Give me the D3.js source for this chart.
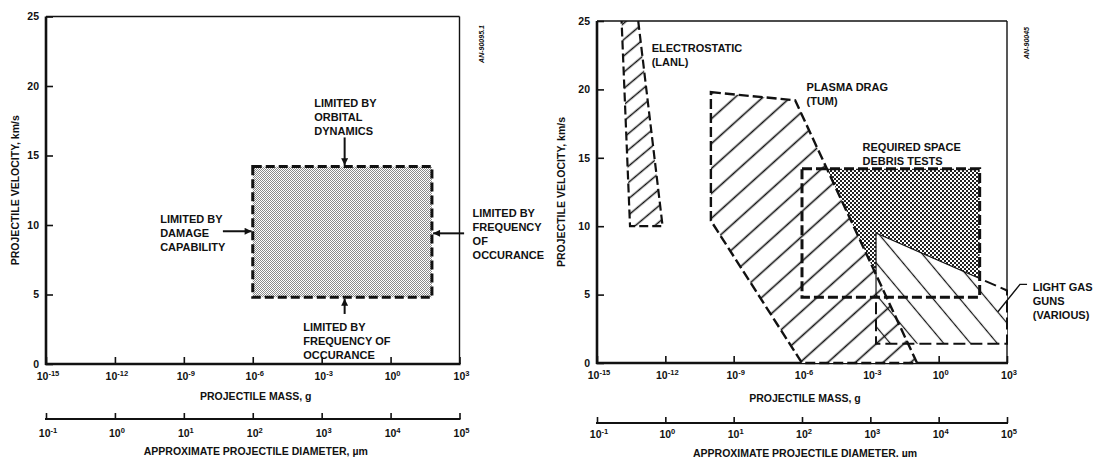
<!DOCTYPE html>
<html><head><meta charset="utf-8">
<script src="https://cdn.jsdelivr.net/npm/d3@7"></script>
<style>
body{margin:0;background:#fff}
svg{display:block}
text{font-family:"Liberation Sans",Arial,Helvetica,sans-serif;fill:#111}
</style>
</head><body>
<svg id="c" width="1093" height="457"></svg>
<script>
// ---------------- data ----------------
const massTickExp = [-15, -12, -9, -6, -3, 0, 3];        // projectile mass, g (10^x)
const diamTickExp = [-1, 0, 1, 2, 3, 4, 5];              // approx. diameter, um (10^x)
const velTicks = [0, 5, 10, 15, 20, 25];                 // km/s

// Required space debris test envelope (both panels)
const boxMassExp = [-6, 1.8];
const boxVel = [4.8, 14.2];

// Electrostatic (LANL) envelope
const electroMassExp = [-13.92, -13.19, -12.12, -13.55];
const electroVel = [25, 25, 10, 10];

// Plasma drag (TUM) envelope
const plasmaMassExp = [-10, -6.3, -0.95, -6, -10];
const plasmaVel = [19.8, 19.2, 0, 0, 10.4];

// Light gas guns (various) envelope
const lggMassExp = [-2.75, 3, 3, -2.75];
const lggVel = [9.5, 5.3, 1.4, 1.4];

// Left panel annotations (mass exponent, velocity)
const leftNotes = [
  {lines: ["LIMITED BY", "ORBITAL", "DYNAMICS"], e: -3.32, v: 18.8},
  {lines: ["LIMITED BY", "DAMAGE", "CAPABILITY"], e: -10.03, v: 10.4},
  {lines: ["LIMITED BY", "FREQUENCY", "OF", "OCCURANCE"], e: 3.57, v: 10.85},
  {lines: ["LIMITED BY", "FREQUENCY OF", "OCCURANCE"], e: -3.8, v: 2.66}
];
const leftArrows = [
  {from: [-2, 16.3], to: [-2, 14.3]},
  {from: [-7.3, 9.55], to: [-6.05, 9.55]},
  {from: [3.2, 9.4], to: [1.85, 9.4]},
  {from: [-2, 3.6], to: [-2, 4.7]}
];
// Right panel annotations
const rightNotes = [
  {lines: ["ELECTROSTATIC", "(LANL)"], e: -12.6, v: 23.0},
  {lines: ["PLASMA DRAG", "(TUM)"], e: -5.8, v: 20.2},
  {lines: ["REQUIRED SPACE", "DEBRIS TESTS"], e: -3.34, v: 15.8},
  {lines: ["LIGHT GAS", "GUNS", "(VARIOUS)"], e: 4.13, v: 5.58}
];
const lggLeader = [[3.88, 5.75], [3.57, 5.75], [2.6, 3.75]];

// ---------------- layout ----------------
const panels = [
  {x0: 46, x1: 459.5, yTop: 16.5, yBot: 364, diamY: 419, massLabY: 380, massTitleY: 400,
   diamLabY: 436.5, diamTitleY: 455, yTitleX: 15, tag: "AN-90095.1", tagX: 481, tagY: 44},
  {x0: 597, x1: 1007, yTop: 21, yBot: 363, diamY: 423, massLabY: 378.5, massTitleY: 402,
   diamLabY: 437.5, diamTitleY: 456.5, yTitleX: 561, tag: "AN-90045", tagX: 1026, tagY: 43}
];

const svg = d3.select("#c");
svg.append("rect").attr("width", 1093).attr("height", 457).attr("fill", "#fff");
const defs = svg.append("defs");

function hatch(id, spacing, angle, width) {
  const p = defs.append("pattern").attr("id", id).attr("patternUnits", "userSpaceOnUse")
    .attr("width", spacing).attr("height", spacing)
    .attr("patternTransform", `rotate(${angle})`);
  p.append("line").attr("x1", -1).attr("x2", spacing + 1)
    .attr("y1", spacing / 2).attr("y2", spacing / 2)
    .attr("stroke", "#111").attr("stroke-width", width);
}
hatch("hElectro", 12.5, -40, 1.5);
hatch("hPlasma", 18.5, -42, 1.6);
hatch("hLgg", 20.5, 50, 1.2);

function stipple(id, size, fill) {
  const p = defs.append("pattern").attr("id", id).attr("patternUnits", "userSpaceOnUse")
    .attr("width", size * 2).attr("height", size * 2);
  p.append("rect").attr("width", size * 2).attr("height", size * 2).attr("fill", "#fff");
  p.append("rect").attr("x", 0).attr("y", 0).attr("width", size).attr("height", size).attr("fill", fill);
  p.append("rect").attr("x", size).attr("y", size).attr("width", size).attr("height", size).attr("fill", fill);
}
stipple("stipL", 1, "#8a8a8a");
stipple("stipR", 2, "#222");

const arrowM = defs.append("marker").attr("id", "arr").attr("viewBox", "0 0 10 10")
  .attr("refX", 10).attr("refY", 5).attr("markerWidth", 10).attr("markerHeight", 7)
  .attr("markerUnits", "userSpaceOnUse").attr("orient", "auto");
arrowM.append("path").attr("d", "M0,0 L10,5 L0,10 z").attr("fill", "#111");

function supLabel(sel, base, exp, x, y, size) {
  const t = sel.append("text").attr("x", x).attr("y", y).attr("text-anchor", "middle")
    .attr("font-size", size).attr("font-weight", "bold");
  t.append("tspan").text(base);
  t.append("tspan").attr("dy", -4).attr("font-size", size * 0.72).text(exp);
  return t;
}

function drawFrame(p) {
  const g = svg.append("g");
  const xs = d3.scaleLog().domain([1e-15, 1e3]).range([p.x0, p.x1]);
  const ys = d3.scaleLinear().domain([0, 25]).range([p.yBot, p.yTop]);
  const ds = d3.scaleLog().domain([1e-1, 1e5]).range([p.x0, p.x1]);
  p.X = e => xs(Math.pow(10, e));
  p.Y = v => ys(v);

  // y axis
  const ya = g.append("g").attr("transform", `translate(${p.x0},0)`)
    .call(d3.axisLeft(ys).tickValues(velTicks).tickSize(-7).tickPadding(7));
  ya.select(".domain").remove();
  ya.selectAll("line").attr("stroke", "#111").attr("stroke-width", 1.6);
  ya.selectAll("text").attr("font-size", 10.5).attr("font-weight", "bold")
    .attr("font-family", "Liberation Sans, Arial, sans-serif").attr("fill", "#111");

  // x axis (mass)
  const xa = g.append("g").attr("transform", `translate(0,${p.yBot})`)
    .call(d3.axisBottom(xs).tickValues(massTickExp.map(e => Math.pow(10, e))).tickSize(-7).tickFormat(""));
  xa.select(".domain").remove();
  xa.selectAll("line").attr("stroke", "#111").attr("stroke-width", 1.6);
  massTickExp.forEach(e => supLabel(g, "10", String(e), xs(Math.pow(10, e)) + 2, p.massLabY, 10.5));

  // frame
  g.append("line").attr("x1", p.x0).attr("x2", p.x1).attr("y1", p.yTop).attr("y2", p.yTop)
    .attr("stroke", "#111").attr("stroke-width", 1.4);
  g.append("line").attr("x1", p.x1).attr("x2", p.x1).attr("y1", p.yTop).attr("y2", p.yBot)
    .attr("stroke", "#111").attr("stroke-width", 1.4);
  g.append("line").attr("x1", p.x0).attr("x2", p.x0).attr("y1", p.yTop).attr("y2", p.yBot + 1)
    .attr("stroke", "#111").attr("stroke-width", 2.6);
  g.append("line").attr("x1", p.x0 - 1).attr("x2", p.x1 + 1).attr("y1", p.yBot).attr("y2", p.yBot)
    .attr("stroke", "#111").attr("stroke-width", 2.6);

  // diameter axis
  const da = g.append("g").attr("transform", `translate(0,${p.diamY})`)
    .call(d3.axisBottom(ds).tickValues(diamTickExp.map(e => Math.pow(10, e))).tickSize(-6).tickFormat(""));
  da.select(".domain").remove();
  da.selectAll("line").attr("stroke", "#111").attr("stroke-width", 1.6);
  g.append("line").attr("x1", p.x0 - 1).attr("x2", p.x1 + 1).attr("y1", p.diamY).attr("y2", p.diamY)
    .attr("stroke", "#111").attr("stroke-width", 2);
  diamTickExp.forEach(e => supLabel(g, "10", String(e), ds(Math.pow(10, e)) + 2, p.diamLabY, 10.5));

  // titles
  const mid = (p.x0 + p.x1) / 2;
  g.append("text").attr("x", mid + 3).attr("y", p.massTitleY).attr("text-anchor", "middle")
    .attr("font-size", 10.5).attr("font-weight", "bold").text("PROJECTILE MASS, g");
  g.append("text").attr("x", mid + 3).attr("y", p.diamTitleY).attr("text-anchor", "middle")
    .attr("font-size", 10.5).attr("font-weight", "bold").text("APPROXIMATE PROJECTILE DIAMETER, \u00b5m");
  g.append("text").attr("transform", `translate(${p.yTitleX},${(p.yTop + p.yBot) / 2}) rotate(-90)`)
    .attr("text-anchor", "middle").attr("dominant-baseline", "central")
    .attr("font-size", 10.5).attr("font-weight", "bold").text("PROJECTILE VELOCITY, km/s");
  g.append("text").attr("transform", `translate(${p.tagX},${p.tagY}) rotate(-90)`)
    .attr("text-anchor", "middle").attr("dominant-baseline", "central")
    .attr("font-size", 7).attr("font-weight", "bold").attr("font-style", "italic").text(p.tag);
}
panels.forEach(drawFrame);

function notes(p, list, dyStep) {
  list.forEach(n => {
    const t = svg.append("text").attr("font-size", 11).attr("font-weight", "bold");
    n.lines.forEach((s, i) => {
      t.append("tspan").attr("x", p.X(n.e)).attr("y", p.Y(n.v) + i * dyStep)
        .attr("dominant-baseline", "central").text(s);
    });
  });
}
const dashBox = (sel, p) => sel.append("rect")
  .attr("x", p.X(boxMassExp[0])).attr("y", p.Y(boxVel[1]))
  .attr("width", p.X(boxMassExp[1]) - p.X(boxMassExp[0]))
  .attr("height", p.Y(boxVel[0]) - p.Y(boxVel[1]));

// ---------------- left panel ----------------
const L = panels[0];
dashBox(svg, L).attr("fill", "url(#stipL)");
dashBox(svg, L).attr("fill", "none").attr("stroke", "#111").attr("stroke-width", 3)
  .attr("stroke-dasharray", "9,4");
notes(L, leftNotes, 14);
leftArrows.forEach(a => {
  svg.append("line").attr("x1", L.X(a.from[0])).attr("y1", L.Y(a.from[1]))
    .attr("x2", L.X(a.to[0])).attr("y2", L.Y(a.to[1]))
    .attr("stroke", "#111").attr("stroke-width", 2).attr("marker-end", "url(#arr)");
});

// ---------------- right panel ----------------
const R = panels[1];
const polyR = (me, ve) => me.map((e, i) => [R.X(e), R.Y(ve[i])]);
const line = d3.line();
const electroPts = polyR(electroMassExp, electroVel);
const plasmaPts = polyR(plasmaMassExp, plasmaVel);
const lggPts = polyR(lggMassExp, lggVel);

const bx0 = R.X(boxMassExp[0]), bx1 = R.X(boxMassExp[1]), by0 = R.Y(boxVel[1]), by1 = R.Y(boxVel[0]);
defs.append("clipPath").attr("id", "inBox").append("rect")
  .attr("x", bx0).attr("y", by0).attr("width", bx1 - bx0).attr("height", by1 - by0);
defs.append("clipPath").attr("id", "outBox").append("path").attr("clip-rule", "evenodd")
  .attr("d", `M0,0H1093V457H0Z M${bx0},${by0}H${bx1}V${by1}H${bx0}Z`);

dashBox(svg, R).attr("fill", "url(#stipR)");
svg.append("path").attr("d", line(lggPts) + "Z").attr("fill", "#fff");
svg.append("path").attr("d", line(plasmaPts) + "Z").attr("fill", "#fff");
svg.append("path").attr("d", line(lggPts) + "Z").attr("fill", "url(#hLgg)");
svg.append("path").attr("d", line(plasmaPts) + "Z").attr("fill", "url(#hPlasma)");
svg.append("path").attr("d", line(electroPts) + "Z").attr("fill", "url(#hElectro)");

svg.append("path").attr("d", line(lggPts) + "Z").attr("fill", "none").attr("clip-path", "url(#outBox)")
  .attr("stroke", "#111").attr("stroke-width", 2).attr("stroke-dasharray", "12,5");
svg.append("path").attr("d", line(lggPts) + "Z").attr("fill", "none").attr("clip-path", "url(#inBox)")
  .attr("stroke", "#111").attr("stroke-width", 1.2);
svg.append("path").attr("d", line(plasmaPts) + "Z").attr("fill", "none")
  .attr("stroke", "#111").attr("stroke-width", 2.4).attr("stroke-dasharray", "10,4");
svg.append("path").attr("d", line([electroPts[1], electroPts[2], electroPts[3], electroPts[0]]))
  .attr("fill", "none").attr("stroke", "#111").attr("stroke-width", 2.2).attr("stroke-dasharray", "9,4");
dashBox(svg, R).attr("fill", "none").attr("stroke", "#111").attr("stroke-width", 3)
  .attr("stroke-dasharray", "10,4");

notes(R, rightNotes, 14);
svg.append("path").attr("d", line(lggLeader.map(d => [R.X(d[0]), R.Y(d[1])])))
  .attr("fill", "none").attr("stroke", "#111").attr("stroke-width", 1.4);
</script>
</body></html>
